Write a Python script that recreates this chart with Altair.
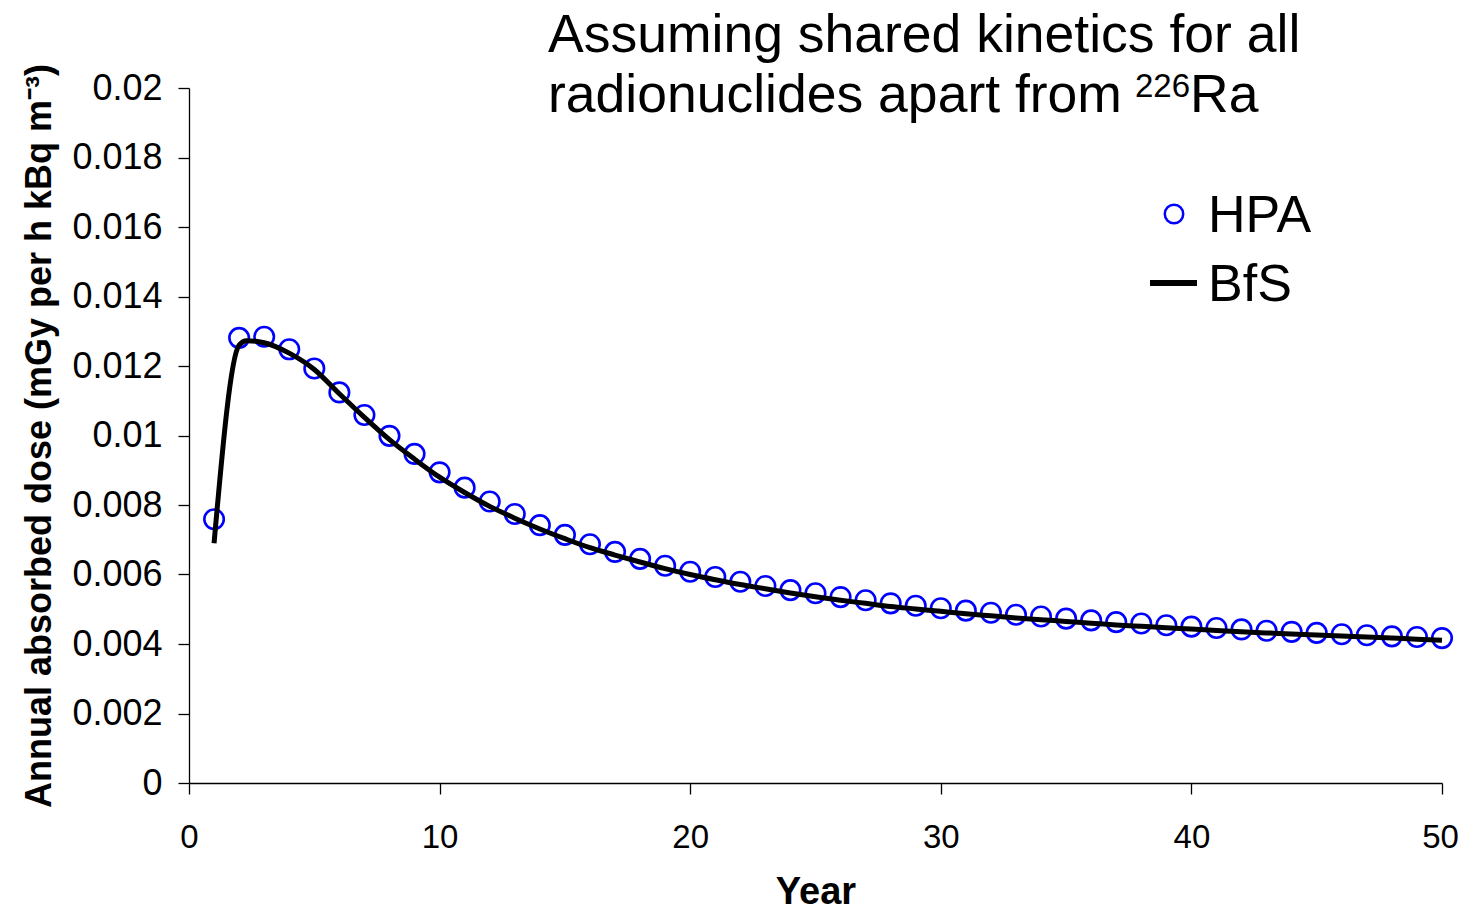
import altair as alt
import pandas as pd

# HPA (circles)
hpa_years = list(range(1, 51))
hpa_dose = [0.00759, 0.01281, 0.01284, 0.01248, 0.01193, 0.01124, 0.01059, 0.00999, 0.00947, 0.00894,
            0.00850, 0.00810, 0.00774, 0.00742, 0.00714, 0.00687, 0.00665, 0.00645, 0.00625, 0.00608,
            0.00593, 0.00579, 0.00567, 0.00555, 0.00546, 0.00535, 0.00526, 0.00517, 0.00510, 0.00503,
            0.00496, 0.00490, 0.00484, 0.00479, 0.00473, 0.00468, 0.00463, 0.00459, 0.00454, 0.00450,
            0.00446, 0.00442, 0.00438, 0.00435, 0.00432, 0.00428, 0.00425, 0.00422, 0.00420, 0.00417]

# BfS (line)
bfs_years = [1, 2, 2.3] + list(range(3, 51))
bfs_dose = [0.00690, 0.01260, 0.01273,
            0.01267, 0.01237, 0.01190, 0.01120, 0.01052, 0.00988, 0.00932, 0.00880,
            0.00836, 0.00796, 0.00762, 0.00731, 0.00703, 0.00677, 0.00656, 0.00636, 0.00617, 0.00600,
            0.00585, 0.00571, 0.00559, 0.00547, 0.00536, 0.00526, 0.00517, 0.00508, 0.00501, 0.00494,
            0.00487, 0.00481, 0.00475, 0.00470, 0.00465, 0.00460, 0.00455, 0.00451, 0.00447, 0.00443,
            0.00439, 0.00435, 0.00432, 0.00429, 0.00426, 0.00423, 0.00420, 0.00417, 0.00414, 0.00411]

x_ticks = [0, 10, 20, 30, 40, 50]
y_ticks = [0, 0.002, 0.004, 0.006, 0.008, 0.01, 0.012, 0.014, 0.016, 0.018, 0.02]

title_line1 = "Assuming shared kinetics for all"
title_line2 = "radionuclides apart from "
title_sup = "226"
title_end = "Ra"
y_title = "Annual absorbed dose (mGy per h kBq m\u207b\u00b3)"
x_title = "Year"

hpa_df = pd.DataFrame({"year": hpa_years, "dose": hpa_dose})
bfs_df = pd.DataFrame({"year": bfs_years, "dose": bfs_dose})

FONT = "Liberation Sans"
W, H = 1253, 695

x_enc = alt.X("year:Q", scale=alt.Scale(domain=[0, 50], nice=False),
              axis=alt.Axis(values=x_ticks, title=x_title, grid=False,
                            labelFontSize=33, labelFont=FONT, labelColor="black",
                            labelPadding=27, tickSize=11, tickColor="black",
                            labelOffset={"condition": {"test": "datum.value == 50", "value": -2},
                                         "value": 0},
                            domainColor="black", tickWidth=1.3, domainWidth=1.3,
                            titleFontSize=38, titleFont=FONT, titleFontWeight="bold",
                            titleColor="black", titleX=W / 2, titleY=120,
                            titleBaseline="alphabetic", labelFlush=False))
y_enc = alt.Y("dose:Q", scale=alt.Scale(domain=[0, 0.02], nice=False),
              axis=alt.Axis(values=y_ticks, format="~g", title=y_title, grid=False,
                            labelFontSize=36, labelFont=FONT, labelColor="black",
                            labelPadding=16, tickSize=11, tickColor="black",
                            domainColor="black", tickWidth=1.3, domainWidth=1.3,
                            titleFontSize=36, titleFont=FONT, titleFontWeight="bold",
                            titleColor="black", titleX=-139, titleY=H / 2,
                            titleAngle=270, titleBaseline="alphabetic", titleAlign="center",
                            labelFlush=False))

points = alt.Chart(hpa_df).mark_point(
    shape="circle", filled=False, color="#0000FF", size=380, strokeWidth=2.6, opacity=1
).encode(x=x_enc, y=y_enc)

line = alt.Chart(bfs_df).mark_line(
    color="black", strokeWidth=5, interpolate="monotone"
).encode(x="year:Q", y="dose:Q")

one = alt.Data(values=[{}])

def txt(text, x, y, size, weight="normal", align="left"):
    return alt.Chart(one).mark_text(
        text=text, font=FONT, fontSize=size, fontWeight=weight, color="black",
        align=align, baseline="alphabetic"
    ).encode(x=alt.value(x), y=alt.value(y))

t1 = txt(title_line1, 359, -36, 53.5)
t2 = txt(title_line2, 359, 24, 53.5)
t3 = txt(title_sup, 946, 9, 33)
t4 = txt(title_end, 1001, 24, 53.5)

leg_pt = alt.Chart(one).mark_point(
    shape="circle", filled=False, color="#0000FF", size=340, strokeWidth=2.5, opacity=1
).encode(x=alt.value(985), y=alt.value(126))
leg_ln = alt.Chart(one).mark_rule(color="black", strokeWidth=6).encode(
    x=alt.value(961), x2=alt.value(1008), y=alt.value(195))
leg_t1 = txt("HPA", 1019, 144, 52)
leg_t2 = txt("BfS", 1019, 213, 52)

chart = alt.layer(points, line, t1, t2, t3, t4, leg_pt, leg_ln, leg_t1, leg_t2).properties(
    width=W, height=H,
    autosize=alt.AutoSizeParams(type="none"),
    padding={"left": 181, "top": 80, "right": 17, "bottom": 123},
    background="white",
).configure_view(stroke=None)

chart.save("out.html", embed_options={"renderer": "svg", "actions": False})
